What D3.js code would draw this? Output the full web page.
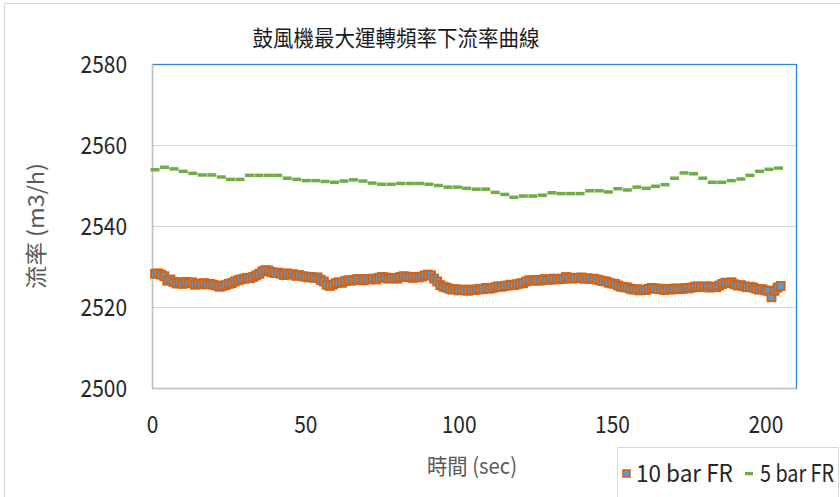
<!DOCTYPE html>
<html><head><meta charset="utf-8">
<script src="https://cdn.jsdelivr.net/npm/d3@7/dist/d3.min.js"></script>
<style>
html,body{margin:0;padding:0;background:#fff;}
svg{display:block;}
</style></head>
<body>
<svg id="chart" width="840" height="497"></svg>
<script>
// ---------- DATA ----------
const title = "鼓風機最大運轉頻率下流率曲線";
const xTitle = "時間 (sec)";
const yTitle = "流率 (m3/h)";
const seriesNames = ["10 bar FR", "5 bar FR"];
const xTicks = [0, 50, 100, 150, 200];
const yTicks = [2500, 2520, 2540, 2560, 2580];

// 10 bar FR: one sample per second, t = 1..205
const flow10Time = d3.range(1, 206);
const flow10 = [
2528.2,2528.3,2528.0,2527.6,2526.5,2526.8,2526.2,2525.8,2526.1,2525.7,
2526.2,2525.9,2526.1,2525.5,2525.8,2525.6,2525.9,2525.6,2525.7,2525.5,
2525.3,2525.0,2525.2,2525.4,2525.7,2525.9,2526.3,2526.6,2526.8,2527.0,
2527.2,2527.1,2527.4,2527.8,2528.2,2528.8,2529.1,2529.0,2528.6,2528.4,
2528.5,2528.2,2527.9,2528.3,2528.0,2528.1,2527.7,2527.9,2527.6,2527.5,
2527.3,2527.4,2527.2,2527.3,2526.7,2526.3,2525.5,2525.2,2525.5,2525.9,
2526.1,2526.0,2526.4,2526.6,2526.5,2526.7,2526.9,2526.8,2526.6,2526.9,
2526.8,2527.0,2526.8,2527.2,2527.4,2527.3,2527.0,2527.2,2527.1,2527.0,
2527.4,2527.6,2527.5,2527.4,2527.2,2527.4,2527.3,2527.5,2527.8,2528.0,
2527.8,2527.0,2526.3,2525.4,2525.0,2524.8,2524.5,2524.3,2524.4,2524.1,
2524.3,2524.2,2524.0,2524.3,2524.2,2524.3,2524.5,2524.4,2524.7,2524.5,
2524.7,2524.9,2525.1,2525.0,2525.2,2525.3,2525.5,2525.4,2525.6,2525.8,
2525.9,2526.3,2526.6,2526.5,2526.7,2526.5,2526.6,2526.9,2526.7,2526.8,
2527.0,2526.8,2526.9,2527.0,2527.4,2527.2,2527.0,2527.2,2527.1,2527.3,
2527.0,2527.1,2526.9,2527.0,2526.8,2526.6,2526.4,2526.3,2526.0,2525.8,
2525.7,2525.3,2525.0,2524.9,2524.8,2524.5,2524.3,2524.4,2524.1,2524.3,
2524.2,2524.5,2524.7,2524.6,2524.5,2524.4,2524.2,2524.5,2524.3,2524.4,
2524.6,2524.4,2524.5,2524.7,2524.6,2524.8,2525.0,2525.1,2524.9,2525.0,
2525.1,2524.8,2525.0,2524.9,2525.3,2525.7,2526.0,2525.9,2526.1,2525.6,
2525.3,2525.4,2525.1,2524.9,2525.0,2524.8,2524.5,2524.3,2524.4,2524.1,
2524.0,2522.4,2524.0,2524.8,2525.2
];

// 5 bar FR: sampled about every 3 seconds
const flow5Time = [
1,4.1,7.2,10.2,13.3,16.4,19.5,22.6,25.6,28.7,31.8,34.9,38,41,44.1,47.2,50.3,53.4,56.4,59.5,
62.6,65.7,68.8,71.8,74.9,78,81.1,84.2,87.2,90.3,93.4,96.5,99.6,102.6,105.7,108.8,111.9,115,118,121.1,
124.2,127.3,130.4,133.4,136.5,139.6,142.7,145.8,148.8,151.9,155,158.1,161.2,164.2,167.3,170.4,173.5,176.6,179.6,182.7,
185.8,188.9,192,195,198.1,201.2,204.3
];
const flow5 = [
2553.9,2554.5,2554.1,2553.5,2553.0,2552.6,2552.6,2552.1,2551.5,2551.5,
2552.5,2552.5,2552.5,2552.5,2551.8,2551.5,2551.2,2551.2,2551.0,2550.8,
2551.1,2551.4,2551.1,2550.6,2550.3,2550.3,2550.5,2550.5,2550.5,2550.3,
2550.0,2549.6,2549.6,2549.3,2549.1,2549.1,2548.3,2547.8,2547.1,2547.4,
2547.4,2547.6,2548.2,2548.0,2548.0,2548.0,2548.7,2548.7,2548.4,2549.2,
2548.9,2549.6,2549.3,2549.8,2550.2,2551.8,2553.1,2552.9,2551.8,2550.8,
2550.8,2551.2,2551.6,2552.5,2553.5,2554.0,2554.3
];

// ---------- CHART ----------
const svg = d3.select("#chart");
const W = 840, H = 497;
const plot = {left: 152, top: 64, right: 796, bottom: 388};
const numFont = "'Liberation Sans Narrow','Noto Sans CJK TC',sans-serif";
const cjkFont = "'Noto Sans CJK TC','Noto Sans CJK SC',sans-serif";
const digitW = 11.6;

svg.append("rect").attr("width", W).attr("height", H).attr("fill", "#fff");
// outer chart border (cropped on the right/bottom)
svg.append("rect").attr("x", 4.5).attr("y", 3.5).attr("width", 900).attr("height", 600)
  .attr("fill", "none").attr("stroke", "#D9D9D9").attr("stroke-width", 1);

const x = d3.scaleLinear().domain([0, 210]).range([plot.left, plot.right]);
const y = d3.scaleLinear().domain([2500, 2580]).range([plot.bottom, plot.top]);

// gridlines
svg.append("g").selectAll("line").data(yTicks.filter(v => v > 2500 && v < 2580)).join("line")
  .attr("x1", plot.left).attr("x2", plot.right)
  .attr("y1", d => y(d) + 0.5).attr("y2", d => y(d) + 0.5)
  .attr("stroke", "#D9D9D9").attr("stroke-width", 1);

// plot area border (blue)
svg.append("rect").attr("x", plot.left + 0.5).attr("y", plot.top + 0.5)
  .attr("width", plot.right - plot.left).attr("height", plot.bottom - plot.top)
  .attr("fill", "none").attr("stroke", "#2E86DE").attr("stroke-width", 1.3);

// axes lines (gray)
svg.append("line").attr("x1", plot.left + 0.5).attr("x2", plot.left + 0.5)
  .attr("y1", plot.top).attr("y2", plot.bottom + 0.5).attr("stroke", "#BFBFBF");
svg.append("line").attr("x1", plot.left).attr("x2", plot.right)
  .attr("y1", plot.bottom + 0.5).attr("y2", plot.bottom + 0.5).attr("stroke", "#BFBFBF");

// y axis labels
const yAxis = d3.axisLeft(y).tickValues(yTicks).tickSize(0).tickPadding(25).tickFormat(d3.format("d"));
const gy = svg.append("g").attr("transform", `translate(${plot.left},0)`).call(yAxis);
gy.select(".domain").remove();
gy.selectAll("text").attr("font-family", numFont).attr("font-size", 24).attr("fill", "#262626")
  .attr("dy", "0.36em")
  .attr("textLength", d => String(d).length * digitW).attr("lengthAdjust", "spacingAndGlyphs");

// x axis labels
const xAxis = d3.axisBottom(x).tickValues(xTicks).tickSize(0).tickPadding(28).tickFormat(d3.format("d"));
const gx = svg.append("g").attr("transform", `translate(0,${plot.bottom})`).call(xAxis);
gx.select(".domain").remove();
gx.selectAll("text").attr("font-family", numFont).attr("font-size", 24).attr("fill", "#262626")
  .attr("textLength", d => String(d).length * digitW).attr("lengthAdjust", "spacingAndGlyphs");

// title
svg.append("text").attr("x", 396).attr("y", 46).attr("text-anchor", "middle")
  .attr("font-family", cjkFont).attr("font-size", 22).attr("fill", "#1a1a1a")
  .attr("textLength", 287).attr("lengthAdjust", "spacingAndGlyphs")
  .text(title);

// axis titles
svg.append("text").attr("x", 472).attr("y", 474).attr("text-anchor", "middle")
  .attr("font-family", numFont).attr("font-size", 22).attr("fill", "#595959")
  .attr("textLength", 90).attr("lengthAdjust", "spacingAndGlyphs")
  .text(xTitle);
svg.append("text").attr("transform", `translate(44,${(plot.top + plot.bottom) / 2}) rotate(-90)`)
  .attr("text-anchor", "middle")
  .attr("font-family", numFont).attr("font-size", 22).attr("fill", "#595959")
  .attr("textLength", 126).attr("lengthAdjust", "spacingAndGlyphs")
  .text(yTitle);

// series: 10 bar FR (square markers)
const s1 = flow10Time.map((t, i) => ({t, v: flow10[i]}));
svg.append("g").selectAll("rect").data(s1).join("rect")
  .attr("x", d => x(d.t) - 4).attr("y", d => y(d.v) - 4)
  .attr("width", 8).attr("height", 8)
  .attr("fill", "#5B9BD5").attr("stroke", "#CF6419").attr("stroke-width", 1.9);

// series: 5 bar FR (dash markers)
const s2 = flow5Time.map((t, i) => ({t, v: flow5[i]}));
svg.append("g").selectAll("rect").data(s2).join("rect")
  .attr("x", d => x(d.t) - 4.5).attr("y", d => y(d.v) - 1.75)
  .attr("width", 9).attr("height", 3.5)
  .attr("fill", "#70AD47");

// legend
const lg = svg.append("g");
lg.append("rect").attr("x", 617.5).attr("y", 447.5).attr("width", 221).attr("height", 60)
  .attr("fill", "#fff").attr("stroke", "#D9D9D9");
lg.append("rect").attr("x", 623).attr("y", 470).attr("width", 7).attr("height", 7)
  .attr("fill", "#5B9BD5").attr("stroke", "#CF6419").attr("stroke-width", 1.6);
lg.append("rect").attr("x", 745).attr("y", 472).attr("width", 8).attr("height", 3.2).attr("fill", "#70AD47");

function squeezedText(g, label, x0, yb, target) {
  const t = g.append("text").attr("x", 0).attr("y", 0)
    .attr("font-family", numFont).attr("font-size", 24).attr("fill", "#262626").text(label);
  const natural = t.node().getComputedTextLength();
  const k = natural > 0 ? Math.min(1, target / natural) : 1;
  t.attr("transform", `translate(${x0},${yb}) scale(${k},1)`);
}
squeezedText(lg, seriesNames[0], 636, 482, 97);
squeezedText(lg, seriesNames[1], 760, 482, 74);
</script>
</body></html>
